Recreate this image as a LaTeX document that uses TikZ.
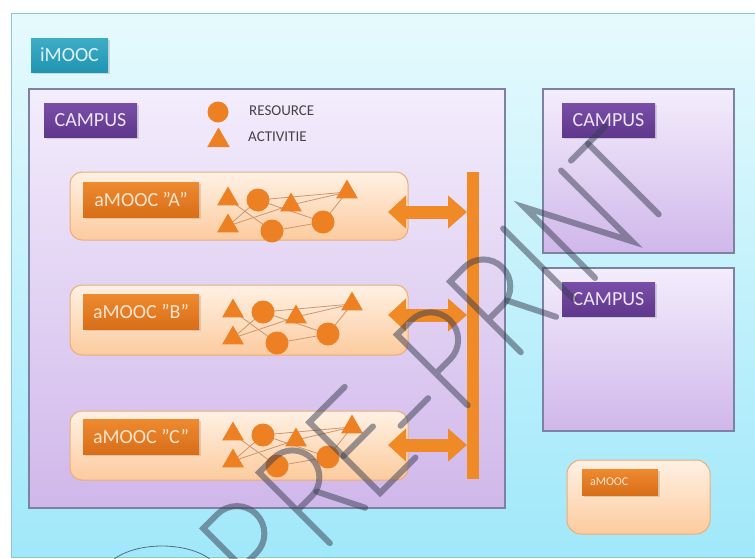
\documentclass[tikz,border=0pt]{standalone}
\usepackage{fontspec}
\setmainfont{Carlito}
\usetikzlibrary{shapes.geometric,arrows.meta,calc,shadows}
\pgfdeclarelayer{bg}
\pgfdeclarelayer{edgelayer}
\pgfdeclarelayer{wm}
\pgfsetlayers{bg,edgelayer,main,wm}
\definecolor{outerT}{RGB}{230,250,253}
\definecolor{outerBt}{RGB}{160,232,250}
\definecolor{outerB}{RGB}{140,200,215}
\definecolor{campT}{RGB}{243,237,252}
\definecolor{campBt}{RGB}{208,183,234}
\definecolor{campB}{RGB}{125,130,165}
\definecolor{clA}{RGB}{122,78,168}
\definecolor{clB}{RGB}{95,55,140}
\definecolor{cltext}{RGB}{236,228,246}
\definecolor{ilA}{RGB}{62,174,198}
\definecolor{ilB}{RGB}{32,148,178}
\definecolor{iltext}{RGB}{225,240,246}
\definecolor{amT}{RGB}{255,241,228}
\definecolor{amBt}{RGB}{252,203,158}
\definecolor{amB}{RGB}{238,172,118}
\definecolor{alA}{RGB}{238,138,48}
\definecolor{alB}{RGB}{216,110,24}
\definecolor{altext}{RGB}{253,228,205}
\definecolor{shapeC}{RGB}{236,128,35}
\definecolor{edgeC}{RGB}{205,150,110}
\definecolor{barC}{RGB}{240,138,38}
\definecolor{wmC}{RGB}{55,60,80}
\definecolor{legtext}{RGB}{70,66,72}
\begin{document}
\begin{tikzpicture}[x=1pt,y=-1pt,
  outerbox/.style={rectangle, inner sep=0, outer sep=0, anchor=north west, draw=outerB, line width=1pt, top color=outerT, bottom color=outerBt},
  campusbox/.style={rectangle, inner sep=0, outer sep=0, anchor=north west, draw=campB, line width=1.2pt, top color=campT, bottom color=campBt},
  amoocbox/.style={rectangle, inner sep=0, outer sep=0, anchor=north west, draw=amB, line width=1pt, rounded corners=12pt, top color=amT, bottom color=amBt},
  labbase/.style={rectangle, inner sep=0, outer sep=0, anchor=north west, font=\fontsize{20}{20}\selectfont, drop shadow={opacity=0.25, shadow xshift=1.5pt, shadow yshift=-1.5pt}},
  campuslab/.style={labbase, top color=clA, bottom color=clB, text=cltext, minimum width=93pt, minimum height=34pt},
  imooclab/.style={labbase, top color=ilA, bottom color=ilB, text=iltext, minimum width=77pt, minimum height=34pt},
  amooclab/.style={labbase, top color=alA, bottom color=alB, text=altext, minimum width=116pt, minimum height=35pt},
  tri/.style={regular polygon, regular polygon sides=3, minimum size=25pt, inner sep=0, fill=shapeC, yshift=-3pt},
  res/.style={circle, minimum size=23pt, inner sep=0, fill=shapeC},
  netedge/.style={draw=edgeC, line width=0.8pt},
  bigarrow/.style={draw=barC, line width=13pt, {Triangle[width=32pt,length=18pt]}-{Triangle[width=32pt,length=19pt]}},
  legendtext/.style={anchor=west, inner sep=0, text=legtext, font=\fontsize{15}{15}\selectfont},
  wmline/.style={draw=wmC, opacity=0.5, line width=6pt, line cap=round, line join=miter}]
\useasboundingbox (0,0) rectangle (755,558);
\clip (0,0) rectangle (755,558);
\begin{pgfonlayer}{bg}
\fill[white] (0,0) rectangle (755,558);
\node[outerbox, minimum width=760pt, minimum height=544pt] (imooc) at (11,13) {};
\node[campusbox, minimum width=476pt, minimum height=419pt] (campusL) at (29,89) {};
\node[campusbox, minimum width=191pt, minimum height=164pt] (campusR1) at (543,89) {};
\node[campusbox, minimum width=191pt, minimum height=163pt] (campusR2) at (543,268) {};
\node[amoocbox, minimum width=338pt, minimum height=68pt] (boxA) at (70,172) {};
\node[amoocbox, minimum width=338pt, minimum height=70pt] (boxB) at (70,285) {};
\node[amoocbox, minimum width=338pt, minimum height=69pt] (boxC) at (70,411) {};
\node[amoocbox, rounded corners=14pt, minimum width=143pt, minimum height=74pt] (boxS) at (567,460) {};
\end{pgfonlayer}
% labels
\node[imooclab] (imoocL) at (31,38) {iMOOC};
\node[campuslab] (campusLL) at (44,103) {CAMPUS};
\node[campuslab] (campusR1L) at (562,103) {CAMPUS};
\node[campuslab] (campusR2L) at (562,282) {CAMPUS};
\node[amooclab] (labA) at (83,182) {aMOOC "A"};
\node[amooclab] (labB) at (83,294) {aMOOC "B"};
\node[amooclab] (labC) at (83,419) {aMOOC "C"};
\node[labbase, top color=alA, bottom color=alB, text=altext, font=\fontsize{12}{12}\selectfont, minimum height=26pt, text width=60pt, inner xsep=8pt, align=left] (labS) at (582,469) {aMOOC};
% legend
\node[res, minimum size=21pt] (legR) at (218,112) {};
\node[tri, minimum size=26pt] (legT) at (218.5,137.5) {};
\node[legendtext] (legRt) at (249,111) {RESOURCE};
\node[legendtext] (legTt) at (248,137) {ACTIVITIE};
% networks
\foreach \b/\ox/\oy in {A/228/196, B/233/308, C/233/431}{
  \node[tri] (T1\b) at (\ox,\oy) {};
  \node[res] (C1\b) at (\ox+30,\oy+4) {};
  \node[tri] (T2\b) at (\ox+63,\oy+6) {};
  \node[tri] (T3\b) at (\ox+119,\oy-7) {};
  \node[tri] (T4\b) at (\ox,\oy+27) {};
  \node[res] (C2\b) at (\ox+44,\oy+35) {};
  \node[res] (C3\b) at (\ox+95,\oy+26) {};
  \begin{pgfonlayer}{edgelayer}
    \draw[netedge] (C1\b.center) -- (T3\b.center);
    \draw[netedge] (T1\b.center) -- (C2\b.center);
    \draw[netedge] (T4\b.center) -- (T2\b.center);
    \draw[netedge] (T4\b.center) -- (C1\b.center);
    \draw[netedge] (C1\b.center) -- (C3\b.center);
    \draw[netedge] (T2\b.center) -- (T3\b.center);
    \draw[netedge] (C2\b.center) -- (C3\b.center);
    \draw[netedge] (C3\b.center) -- (T3\b.center);
  \end{pgfonlayer}
}
% bar and arrows
\node[rectangle, fill=barC, inner sep=0, anchor=north west, minimum width=12pt, minimum height=307pt] (bar) at (467,172) {};
\coordinate (aA) at (388,212);
\coordinate (aB) at (388,315);
\coordinate (aC) at (388,445);
\draw[bigarrow] (aA) -- (aA -| bar.west);
\draw[bigarrow] (aB) -- (aB -| bar.west);
\draw[bigarrow] (aC) -- (aC -| bar.west);
% watermark
\begin{pgfonlayer}{wm}
\draw[draw=wmC, opacity=0.7, line width=0.8pt] (162,576) ellipse [x radius=58, y radius=30];
\begin{scope}[shift={(274pt,-599pt)}, x=1pt, y=1pt, rotate=45]
  % P
  \draw[wmline] (0,0) -- (0,100) -- (20,100) arc[start angle=90, end angle=-90, radius=27.5] -- (0,45);
  % R
  \draw[wmline] (79,0) -- (79,100) -- (99,100) arc[start angle=90, end angle=-90, radius=27] -- (79,46);
  \draw[wmline] (106,46) -- (129,0);
  % E
  \draw[wmline] (200,100) -- (150,100) -- (150,0) -- (200,0);
  \draw[wmline] (150,52) -- (192,52);
  % -
  \draw[wmline] (212,33) -- (251,33);
  % P
  \draw[wmline] (274,0) -- (274,100) -- (294,100) arc[start angle=90, end angle=-90, radius=27.5] -- (274,45);
  % R
  \draw[wmline] (349,0) -- (349,100) -- (369,100) arc[start angle=90, end angle=-90, radius=27] -- (349,46);
  \draw[wmline] (376,46) -- (399,0);
  % I
  \draw[wmline] (424,0) -- (424,100);
  % N
  \draw[wmline] (454,0) -- (454,100) -- (506,0) -- (506,100);
  % T
  \draw[wmline] (544,0) -- (544,100);
  \draw[wmline] (520,100) -- (568,100);
\end{scope}
\end{pgfonlayer}
\end{tikzpicture}
\end{document}
